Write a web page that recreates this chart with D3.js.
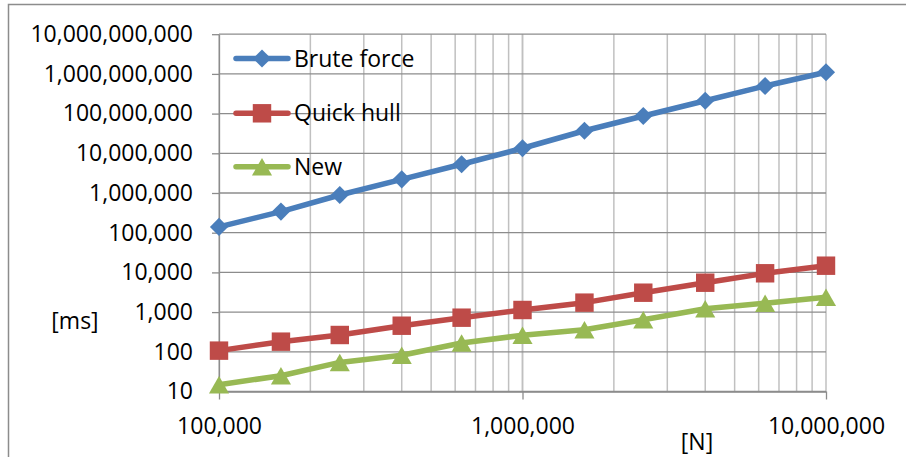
<!DOCTYPE html>
<html>
<head>
<meta charset="utf-8">
<script src="https://cdn.jsdelivr.net/npm/d3@7"></script>
<style>
  html, body { margin: 0; padding: 0; background: #fff; }
  svg { display: block; }
  text { font-family: "Open Sans", "Noto Sans", sans-serif; fill: #000; }
</style>
</head>
<body>
<svg id="chart" width="906" height="457"></svg>
<script>
// Problem size N (points) and running times in ms for each algorithm
const sizes = [100000, 160000, 250000, 400000, 630000, 1000000, 1600000, 2500000, 4000000, 6300000, 10000000];
const bruteForce = [140000, 340000, 890000, 2210000, 5300000, 13400000, 37000000, 87000000, 211000000, 496000000, 1100000000];
const quickHull = [107, 180, 265, 454, 723, 1130, 1730, 3080, 5500, 9500, 14750];
const newAlg = [14.8, 25, 54, 82, 167, 260, 360, 644, 1210, 1670, 2360];

const seriesNames = ["Brute force", "Quick hull", "New"];
const seriesColors = ["#4a7ebb", "#be4b48", "#98b954"];
const seriesSymbols = ["diamond", "square", "triangle"];

const yTicks = [10, 100, 1000, 10000, 100000, 1000000, 10000000, 100000000, 1000000000, 10000000000];
const xTicks = [100000, 1000000, 10000000];
const xGridValues = [];
for (let d = 100000; d < 10000000; d *= 10) {
  for (let k = 1; k <= 10; k++) xGridValues.push(d * k);
}

const svg = d3.select("#chart");
const plot = { left: 219, right: 826, top: 34.2, bottom: 391.5 };

const x = d3.scaleLog().domain([1e5, 1e7]).range([plot.left, plot.right]);
const y = d3.scaleLog().domain([10, 1e10]).range([plot.bottom, plot.top]);

// outer chart frame
svg.append("rect")
  .attr("x", 8.5).attr("y", 4.5)
  .attr("width", 910).attr("height", 470)
  .attr("fill", "#fff").attr("stroke", "#8c8c8c").attr("stroke-width", 1.5);

// vertical gridlines (major + minor)
svg.append("g").selectAll("line")
  .data(xGridValues)
  .join("line")
  .attr("x1", d => x(d)).attr("x2", d => x(d))
  .attr("y1", plot.top).attr("y2", plot.bottom)
  .attr("stroke", "#c0c0c0").attr("stroke-width", 1.5);

// horizontal gridlines at each decade
svg.append("g").selectAll("line")
  .data(yTicks)
  .join("line")
  .attr("x1", plot.left).attr("x2", plot.right)
  .attr("y1", d => y(d)).attr("y2", d => y(d))
  .attr("stroke", "#8c8c8c").attr("stroke-width", 1.3);

const fmt = d3.format(",");

// y axis
const yAxis = svg.append("g")
  .attr("transform", `translate(${plot.left},0)`)
  .call(d3.axisLeft(y).tickValues(yTicks).tickFormat(fmt).tickSizeInner(7).tickSizeOuter(0).tickPadding(19));
yAxis.select(".domain").attr("stroke", "#8c8c8c").attr("stroke-width", 1.3);
yAxis.selectAll(".tick line").attr("stroke", "#8c8c8c").attr("stroke-width", 1.3);
yAxis.selectAll(".tick text").attr("font-size", 23).attr("font-family", null).attr("fill", "#000");

// x axis
const xAxis = svg.append("g")
  .attr("transform", `translate(0,${plot.bottom})`)
  .call(d3.axisBottom(x).tickValues(xTicks).tickFormat(fmt).tickSizeInner(8).tickSizeOuter(0));
xAxis.select(".domain").attr("stroke", "#8c8c8c").attr("stroke-width", 1.3);
xAxis.selectAll(".tick line").attr("stroke", "#8c8c8c").attr("stroke-width", 1.3);
xAxis.selectAll(".tick text")
  .attr("font-size", 23).attr("font-family", null).attr("fill", "#000")
  .attr("y", 34.5).attr("dy", "0.35em");

// axis titles
svg.append("text").attr("x", 75).attr("y", 320.5).attr("dy", "0.35em")
  .attr("text-anchor", "middle").attr("font-size", 23).text("[ms]");
svg.append("text").attr("x", 697).attr("y", 441.5).attr("dy", "0.35em")
  .attr("text-anchor", "middle").attr("font-size", 23).text("[N]");

// marker shapes: diamond is a square turned 45 degrees
const markerDefs = {
  diamond:  { type: d3.symbolSquare,   size: 165, rotate: 45, dy: 0 },
  square:   { type: d3.symbolSquare,   size: 340, rotate: 0,  dy: 0 },
  triangle: { type: d3.symbolTriangle, size: 175, rotate: 0,  dy: 0 }
};
// triangle path is centred on its centroid; shift so its box is centred
{
  const t = markerDefs.triangle;
  const side = Math.sqrt(t.size * 4 / Math.sqrt(3));
  t.dy = side * Math.sqrt(3) / 2 / 6;
}
function markerPath(name) {
  const m = markerDefs[name];
  return d3.symbol().type(m.type).size(m.size)();
}
function markerTransform(name, cx, cy) {
  const m = markerDefs[name];
  return `translate(${cx},${cy + m.dy}) rotate(${m.rotate})`;
}

const allSeries = [bruteForce, quickHull, newAlg];
const line = d3.line().x(d => x(d[0])).y(d => y(d[1]));

allSeries.forEach((values, i) => {
  const pts = sizes.map((n, j) => [n, values[j]]);
  const g = svg.append("g");
  g.append("path")
    .attr("d", line(pts))
    .attr("fill", "none")
    .attr("stroke", seriesColors[i])
    .attr("stroke-width", 5.5)
    .attr("stroke-linejoin", "round");
  g.selectAll("path.marker")
    .data(pts)
    .join("path")
    .attr("class", "marker")
    .attr("transform", d => markerTransform(seriesSymbols[i], x(d[0]), y(d[1])))
    .attr("d", markerPath(seriesSymbols[i]))
    .attr("fill", seriesColors[i]);
});

// legend
const legendRows = [58.5, 113.3, 166.7];
seriesNames.forEach((name, i) => {
  const ly = legendRows[i];
  const g = svg.append("g");
  g.append("line")
    .attr("x1", 236).attr("x2", 288)
    .attr("y1", ly).attr("y2", ly)
    .attr("stroke", seriesColors[i]).attr("stroke-width", 5.5).attr("stroke-linecap", "round");
  g.append("path")
    .attr("transform", markerTransform(seriesSymbols[i], 262, ly))
    .attr("d", markerPath(seriesSymbols[i]))
    .attr("fill", seriesColors[i]);
  g.append("text").attr("x", 294).attr("y", ly).attr("dy", "0.35em")
    .attr("font-size", 23).text(name);
});
</script>
</body>
</html>
